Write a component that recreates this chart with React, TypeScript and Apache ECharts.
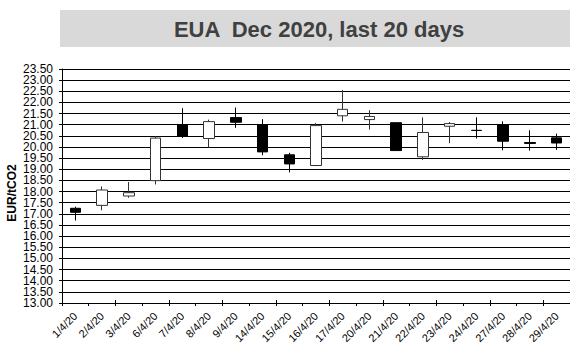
import React, { useEffect, useRef } from "react";
import * as echarts from "echarts";

const dates = ["1/4/20", "2/4/20", "3/4/20", "6/4/20", "7/4/20", "8/4/20", "9/4/20", "14/4/20", "15/4/20", "16/4/20", "17/4/20", "20/4/20", "21/4/20", "22/4/20", "23/4/20", "24/4/20", "27/4/20", "28/4/20", "29/4/20"];
const openVals = [17.25, 17.38, 17.8, 18.49, 21.01, 20.38, 21.32, 20.99, 19.65, 19.17, 21.4, 21.23, 21.09, 19.56, 20.93, 20.75, 20.99, 20.2, 20.41];
const closeVals = [17.07, 18.07, 17.95, 20.4, 20.49, 21.14, 21.11, 19.78, 19.24, 20.96, 21.69, 21.37, 19.84, 20.65, 21.05, 20.74, 20.26, 20.16, 20.18];
const lowVals = [16.7, 17.16, 17.72, 18.32, 20.41, 19.98, 20.86, 19.63, 18.86, 19.14, 21.14, 20.78, 19.84, 19.42, 20.17, 20.38, 19.85, 19.84, 19.87];
const highVals = [17.32, 18.23, 18.43, 20.49, 21.74, 21.23, 21.77, 21.25, 19.74, 21.08, 22.55, 21.65, 21.09, 21.33, 21.12, 21.33, 21.15, 20.75, 20.6];

const titleText = "EUA  Dec 2020, last 20 days";
const yAxisTitle = "EUR/tCO2";
const yMin = 13;
const yMax = 23.5;
const yStep = 0.5;

const FONT = "'Liberation Sans', Arial, sans-serif";

export default function App() {
  const ref = useRef<HTMLDivElement>(null);
  useEffect(() => {
    if (!ref.current) return;
    const chart = echarts.init(ref.current, null, { renderer: "svg" });
    const data = dates.map((_, i) => [openVals[i], closeVals[i], lowVals[i], highVals[i]]);
    const stepIndex = (v: number) => Math.round((v - yMin) / yStep);
    const labelBase = {
      color: "#000",
      fontSize: 12,
      fontFamily: FONT,
      margin: 9,
      showMinLabel: true,
      showMaxLabel: true,
    };
    chart.setOption({
      animation: false,
      backgroundColor: "#ffffff",
      textStyle: { fontFamily: FONT },
      grid: { left: 62, right: 0, top: 69, bottom: 41, containLabel: false, outerBoundsMode: "none" },
      graphic: [
        {
          type: "rect",
          shape: { x: 60, y: 10, width: 510, height: 37 },
          style: { fill: "#d9d9d9" },
          silent: true,
        },
        {
          type: "text",
          x: 319,
          y: 29,
          style: {
            text: titleText,
            fill: "#404040",
            font: `bold 22px ${FONT}`,
            textAlign: "center",
            textVerticalAlign: "middle",
          },
        },
        {
          type: "text",
          x: 12,
          y: 193,
          rotation: Math.PI / 2,
          style: {
            text: yAxisTitle,
            fill: "#000",
            font: `bold 12px ${FONT}`,
            textAlign: "center",
            textVerticalAlign: "middle",
          },
        },
      ],
      xAxis: [
        {
          type: "category",
          data: dates,
          boundaryGap: true,
          axisLine: { onZero: false, lineStyle: { color: "#000", width: 1 } },
          axisTick: { show: true, alignWithLabel: false, length: 3, lineStyle: { color: "#000" } },
          axisLabel: {
            rotate: 45,
            interval: 0,
            margin: 11,
            color: "#000",
            fontSize: 11,
            fontFamily: FONT,
          },
          splitLine: { show: false },
        },
        {
          type: "category",
          data: dates,
          position: "bottom",
          boundaryGap: true,
          axisLine: { show: false },
          axisTick: { show: true, inside: true, alignWithLabel: false, length: 3, lineStyle: { color: "#000" } },
          axisLabel: { show: false },
          splitLine: { show: false },
        },
      ],
      yAxis: [
        {
          type: "value",
          min: yMin,
          max: yMax,
          interval: yStep,
          axisLine: { show: true, lineStyle: { color: "#000", width: 1 } },
          axisTick: { show: true, length: 3, lineStyle: { color: "#000" } },
          axisLabel: {
            ...labelBase,
            formatter: (v: number) => (stepIndex(v) % 2 === 0 ? v.toFixed(2) : ""),
          },
          splitLine: { show: true, lineStyle: { color: "#000", width: 1 } },
        },
        {
          type: "value",
          position: "left",
          offset: 0,
          min: yMin,
          max: yMax,
          interval: yStep,
          axisLine: { show: false },
          axisTick: { show: true, inside: true, length: 3, lineStyle: { color: "#000" } },
          axisLabel: {
            ...labelBase,
            formatter: (v: number) => (stepIndex(v) % 2 === 1 ? v.toFixed(2) : ""),
          },
          splitLine: { show: false },
        },
      ],
      series: [
        {
          type: "candlestick",
          data,
          barWidth: 11,
          itemStyle: {
            color: "#ffffff",
            color0: "#000000",
            borderColor: "#333333",
            borderColor0: "#000000",
            borderWidth: 1,
          },
        },
      ],
    });
    return () => chart.dispose();
  }, []);
  return <div ref={ref} style={{ position: "fixed", left: 0, top: 0, width: 570, height: 344 }} />;
}
